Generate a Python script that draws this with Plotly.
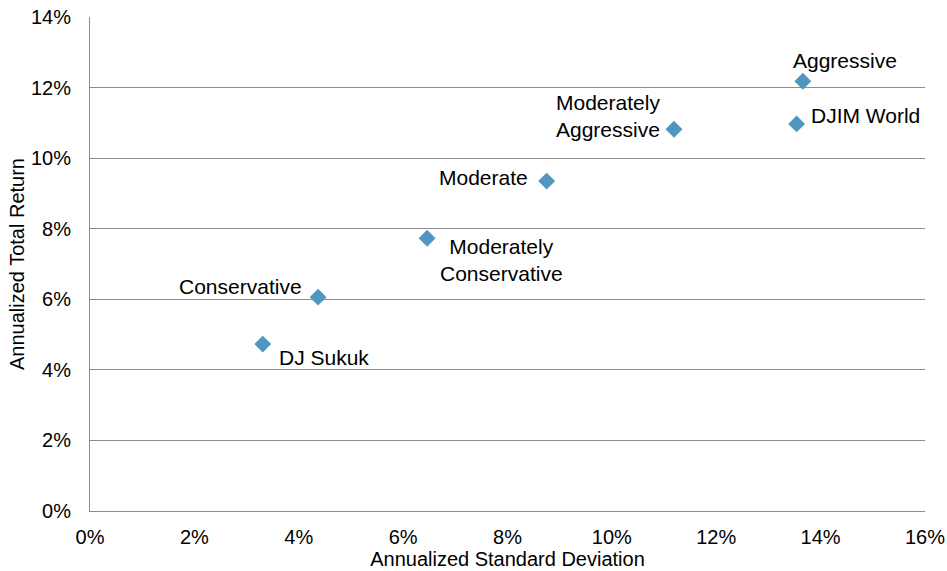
import plotly.graph_objects as go

names = ["DJ Sukuk", "Conservative", "Moderately Conservative", "Moderate",
         "Moderately Aggressive", "DJIM World", "Aggressive"]
std_dev = [3.31, 4.37, 6.46, 8.75, 11.19, 13.54, 13.66]
ret = [4.73, 6.06, 7.73, 9.35, 10.82, 10.97, 12.18]
x_ticks = [0, 2, 4, 6, 8, 10, 12, 14, 16]
y_ticks = [0, 2, 4, 6, 8, 10, 12, 14]

label_text = ["DJ Sukuk", "Conservative", "Moderately<br>Conservative", "Moderate",
              "Moderately<br>Aggressive", "DJIM World", "Aggressive"]
label_style = [
    dict(xanchor="left", xshift=14, yshift=-13, align="left"),
    dict(xanchor="right", xshift=-14, yshift=11, align="right"),
    dict(xanchor="left", xshift=11, yshift=-22, align="center"),
    dict(xanchor="right", xshift=-17, yshift=4, align="right"),
    dict(xanchor="right", xshift=-12, yshift=13, align="left"),
    dict(xanchor="left", xshift=12, yshift=8, align="left"),
    dict(xanchor="left", xshift=-12, yshift=21, align="left"),
]

FONT = "Liberation Sans, Arial"

fig = go.Figure()
fig.add_trace(go.Scatter(
    x=std_dev, y=ret, mode="markers",
    marker=dict(symbol="diamond", size=13, color="#4F97C1"),
    hovertext=names, showlegend=False,
))

for xv, yv, t, s in zip(std_dev, ret, label_text, label_style):
    fig.add_annotation(x=xv, y=yv, text=t, showarrow=False, yanchor="middle",
                       font=dict(family=FONT, size=21, color="#000000"), **s)

fig.update_layout(
    width=947, height=571,
    margin=dict(l=90, r=22, t=17, b=60),
    paper_bgcolor="white", plot_bgcolor="white",
    font=dict(family=FONT, size=20, color="#000000"),
)
fig.update_xaxes(
    range=[0, 16], tickvals=x_ticks, ticktext=[f"{v}%" for v in x_ticks],
    showgrid=False, zeroline=False, showline=True, linecolor="#8c8c8c", linewidth=1,
    ticks="", automargin=False, ticklabelstandoff=8, tickfont=dict(size=20),
    title=dict(text="Annualized Standard Deviation", font=dict(size=20), standoff=0),
)
fig.update_yaxes(
    range=[0, 14], tickvals=y_ticks, ticktext=[f"{v}%" for v in y_ticks],
    showgrid=True, gridcolor="#8c8c8c", gridwidth=1, zeroline=False,
    showline=True, linecolor="#8c8c8c", linewidth=1, ticks="",
    automargin=False, ticklabelstandoff=14, tickfont=dict(size=20),
    title=dict(text="Annualized Total Return", font=dict(size=20), standoff=0),
)

fig.write_html("out.html", config={"displayModeBar": False},
               post_script="document.body.style.margin='0';document.body.style.overflow='hidden';")
